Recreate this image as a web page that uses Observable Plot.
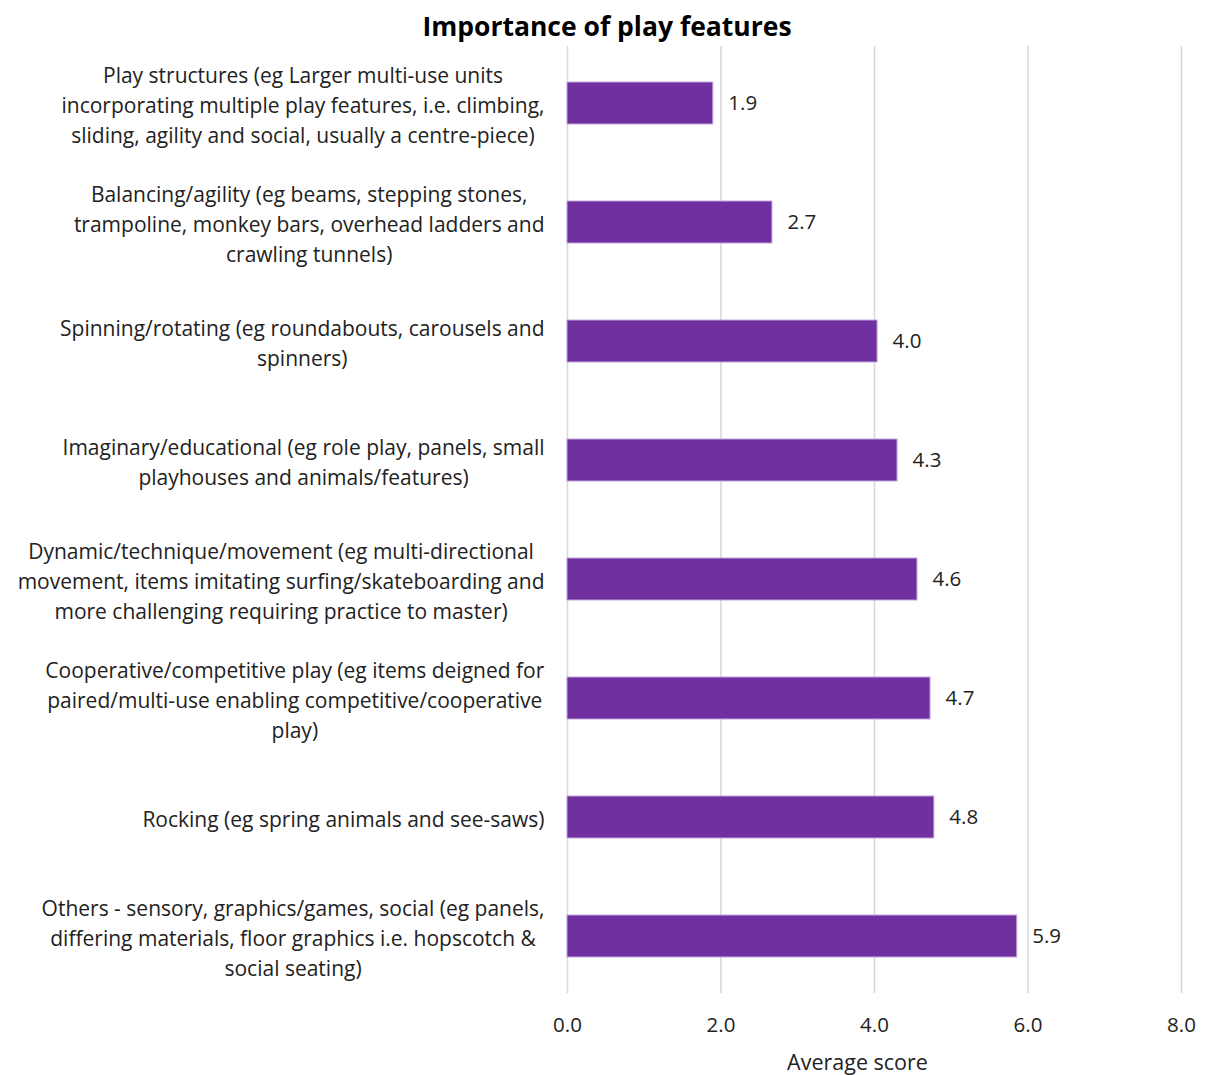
<!DOCTYPE html>
<html>
<head>
<meta charset="utf-8">
<script src="https://cdn.jsdelivr.net/npm/d3@7"></script>
<script src="https://cdn.jsdelivr.net/npm/@observablehq/plot@0.6"></script>
<style>
  body { margin: 0; background: #fff; }
  #title { height: 45px; line-height: 52px; text-align: center; padding-left: 9px;
           font-family: "Open Sans", "Noto Sans", sans-serif; font-weight: bold; font-size: 26.5px; color: #000; }
</style>
</head>
<body>
<div id="title">Importance of play features</div>
<div id="chart"></div>
<script>
const categories = [
  "Play structures (eg Larger multi-use units\nincorporating multiple play features, i.e. climbing,\nsliding, agility and social, usually a centre-piece)",
  "Balancing/agility (eg beams, stepping stones,\ntrampoline, monkey bars, overhead ladders and\ncrawling tunnels)",
  "Spinning/rotating (eg roundabouts, carousels and\nspinners)",
  "Imaginary/educational (eg role play, panels, small\nplayhouses and animals/features)",
  "Dynamic/technique/movement (eg multi-directional\nmovement, items imitating surfing/skateboarding and\nmore challenging requiring practice to master)",
  "Cooperative/competitive play (eg items deigned for\npaired/multi-use enabling competitive/cooperative\nplay)",
  "Rocking (eg spring animals and see-saws)",
  "Others - sensory, graphics/games, social (eg panels,\ndiffering materials, floor graphics i.e. hopscotch &\nsocial seating)"
];
const values = [1.9, 2.67, 4.04, 4.3, 4.56, 4.73, 4.78, 5.86];
const xTicks = [0, 2, 4, 6, 8];
const xLabel = "Average score";

const data = categories.map((c, i) => ({category: c, value: values[i]}));
const font = "'Open Sans', 'Noto Sans', sans-serif";

const chart = Plot.plot({
  width: 1205,
  height: 1030,
  marginLeft: 567,
  marginRight: 24,
  marginTop: 1,
  marginBottom: 82,
  style: {fontFamily: font, fontSize: "21px", color: "#222", background: "#fff"},
  x: {domain: [0, 8], ticks: xTicks, tickFormat: d => d.toFixed(1), label: null},
  y: {domain: categories, paddingInner: 0.646, paddingOuter: 0.3, label: null},
  marks: [
    Plot.gridX(xTicks, {stroke: "#d9d9d9", strokeOpacity: 1, strokeWidth: 1.6}),
    Plot.barX(data, {x: "value", y: "category", fill: "#7030A0", stroke: "#c2a6dd", strokeWidth: 1}),
    Plot.text(data, {x: "value", y: "category", text: d => d.value.toFixed(1), textAnchor: "start", dx: 15, fontSize: 20.5, fill: "#222"}),
    Plot.axisX({ticks: xTicks, tickFormat: d => d.toFixed(1), tickSize: 0, tickPadding: 24, label: null, fontSize: 20.5}),
    Plot.text([xLabel], {frameAnchor: "bottom", dx: -17, dy: 76, text: d => d, fontSize: 21.5, fill: "#222"}),
    Plot.axisY({tickSize: 0, tickPadding: 23, textAnchor: "middle", lineHeight: 1.43, label: null, fontSize: 21})
  ]
});
document.getElementById("chart").appendChild(chart);

// center wrapped lines within each label block, right-aligning the block
chart.querySelectorAll('g[aria-label="y-axis tick label"] text').forEach(t => {
  const w = t.getBBox().width;
  const tr = t.getAttribute("transform") || "";
  t.setAttribute("transform", `translate(${-w / 2},0) ` + tr);
});
</script>
</body>
</html>
